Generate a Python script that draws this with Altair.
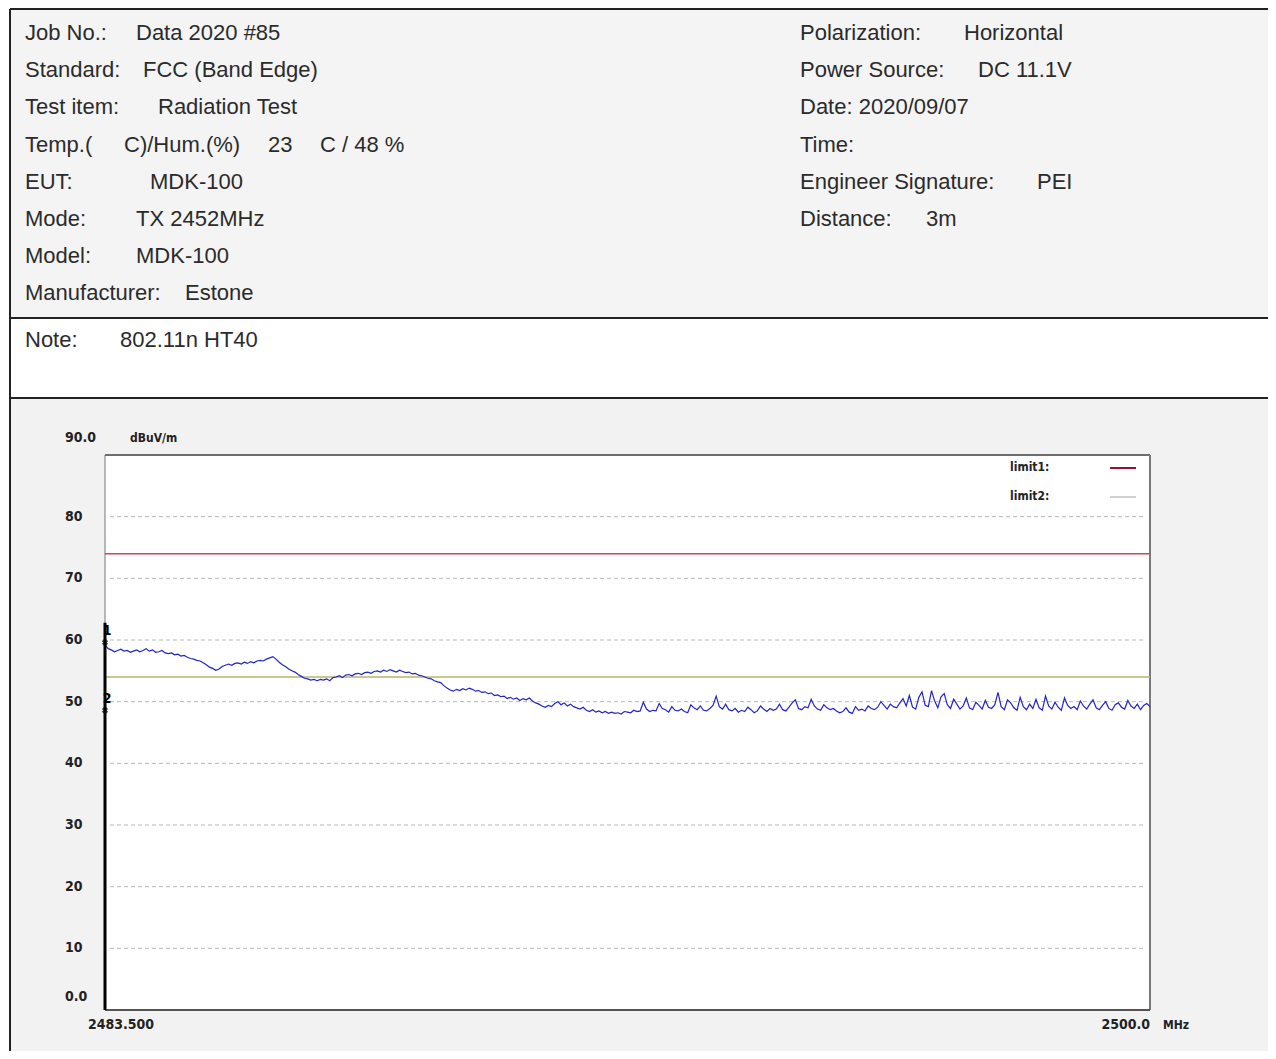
import altair as alt
import pandas as pd

# ---------------- data ----------------
FREQ_START = 2483.5
FREQ_STEP = 0.05
LEVELS = [
    59.2, 58.6, 58.4, 58.1, 58.3, 58.5, 58.2, 58.3, 58.0, 58.2,
    58.4, 58.1, 58.3, 58.6, 58.2, 58.4, 58.0, 58.1, 58.3, 57.9,
    57.8, 57.9, 57.6, 57.7, 57.4, 57.5, 57.2, 57.0, 56.9, 56.7,
    56.6, 56.3, 56.0, 55.6, 55.4, 55.1, 55.3, 55.7, 55.9, 56.1,
    55.9, 56.2, 56.3, 56.1, 56.4, 56.2, 56.5, 56.3, 56.6, 56.7,
    56.6, 56.9, 57.1, 57.3, 56.9, 56.4, 56.0, 55.7, 55.3, 55.0,
    54.8, 54.4, 54.1, 53.8, 53.7, 53.5, 53.6, 53.4, 53.6, 53.5,
    53.7, 53.4, 53.9, 54.0, 54.2, 53.9, 54.3, 54.4, 54.2, 54.5,
    54.6, 54.4, 54.7, 54.8, 54.6, 54.9, 55.0, 54.8, 55.1, 54.9,
    55.2, 55.0, 54.8, 55.1, 54.9, 54.7, 54.8, 54.5, 54.6, 54.3,
    54.2, 54.0, 53.8, 53.7, 53.4, 53.2, 53.1, 52.6, 52.2, 51.9,
    51.7, 52.0, 51.8, 52.1, 51.9, 52.2, 52.0, 51.7, 51.8, 51.5,
    51.6, 51.3, 51.4, 51.0, 51.1, 50.8, 50.9, 50.5, 50.7, 50.4,
    50.6, 50.2, 50.5, 50.3, 50.6, 50.1, 49.8, 49.6, 49.3, 49.1,
    49.4, 49.2, 49.7, 50.0, 49.5, 49.8, 49.3, 49.6, 49.2, 49.0,
    48.8, 49.1, 48.6, 48.4, 48.7, 48.3, 48.5, 48.2, 48.4, 48.1,
    48.3, 48.1, 48.2, 48.0, 48.4, 48.3, 48.2, 48.6, 48.4, 48.5,
    49.9, 48.8, 48.4, 48.6, 48.5, 49.7, 48.9, 48.7, 48.3, 49.2,
    48.6, 48.5, 48.8, 48.4, 48.2, 49.5, 49.0, 48.7, 49.3, 48.6,
    48.5, 48.9, 49.4, 50.9, 49.2, 48.8, 49.6, 48.7, 48.5, 48.9,
    48.3, 48.6, 48.4, 49.1, 48.7, 48.2, 48.5, 49.3, 48.8, 48.4,
    48.9, 48.6, 48.8, 49.6, 48.7, 48.5, 49.1, 49.8, 50.3, 48.9,
    48.7, 49.2, 49.0, 50.4, 49.3, 48.8, 48.6, 49.5, 49.0, 48.7,
    48.9, 48.5, 48.2, 48.4, 49.0, 48.3, 48.1, 49.2, 48.6, 48.8,
    48.5, 49.3, 48.9, 48.7, 49.1, 50.0, 49.4, 48.8, 49.6, 49.2,
    49.0, 49.8, 50.5, 49.3, 51.0, 49.1, 48.8, 50.7, 51.6, 49.4,
    49.2, 51.8, 50.1, 49.0, 50.8, 51.3, 49.5, 48.9, 50.4, 49.6,
    48.8, 49.3, 50.6, 49.0, 48.7, 49.9, 49.4, 48.8, 50.2, 49.1,
    48.9, 49.5, 51.5, 49.2, 48.7, 50.3, 49.8, 49.0, 48.6, 50.7,
    49.2, 48.7, 49.6, 48.9, 50.4, 49.0, 48.6, 50.9, 49.3, 48.8,
    49.9, 49.1, 48.6, 50.6, 49.4, 48.9, 49.2, 48.7, 50.1, 49.3,
    48.8, 49.6, 50.3, 49.0, 48.7, 49.4, 50.0, 48.9, 48.6, 49.5,
    49.8, 49.1, 48.8, 50.2, 49.3, 48.9, 49.6, 48.7, 49.4, 49.7,
    49.2,
]
FREQS = [round(FREQ_START + FREQ_STEP * i, 3) for i in range(len(LEVELS))]

LIMIT_NAMES = ["limit1", "limit2"]
LIMIT_LEVELS = [74.0, 54.0]
LIMIT_COLORS = ["#d8405c", "#b5b56a"]

GRID_LEVELS = [80, 70, 60, 50, 40, 30, 20, 10]
Y_TICK_VALUES = [80, 70, 60, 50, 40, 30, 20, 10]
Y_TICK_LABELS = ["80", "70", "60", "50", "40", "30", "20", "10"]
Y_TOP_LABEL = "90.0"
Y_BOTTOM_LABEL = "0.0"
X_MIN, X_MAX = 2483.5, 2500.0
X_MIN_LABEL = "2483.500"
X_MAX_LABEL = "2500.0"
X_UNIT = "MHz"
Y_UNIT = "dBuV/m"

MARKER_FREQS = [2483.5, 2483.5]
MARKER_LEVELS = [59.6, 48.6]
MARKER_LABELS = ["1", "2"]
MARKER_LINE_TOP = 62.8

HEADER_LEFT = [
    ("Job No.:", "Data 2020 #85"),
    ("Standard:", "FCC (Band Edge)"),
    ("Test item:", "Radiation Test"),
    ("Temp.(", "C)/Hum.(%)"),
    ("EUT:", "MDK-100"),
    ("Mode:", "TX 2452MHz"),
    ("Model:", "MDK-100"),
    ("Manufacturer:", "Estone"),
]
TEMP_EXTRA = ["23", "C / 48 %"]
HEADER_RIGHT = [
    ("Polarization:", "Horizontal"),
    ("Power Source:", "DC 11.1V"),
    ("Date: 2020/09/07", ""),
    ("Time:", ""),
    ("Engineer Signature:", "PEI"),
    ("Distance:", "3m"),
]
NOTE = ("Note:", "802.11n HT40")

# ---------------- layout (page pixel coords) ----------------
OX, OY = 105, 455          # plot area origin on page
PW, PH = 1045, 555         # plot area size
LEFT_VALUE_X = [136, 143, 158, 124, 150, 136, 136, 185]
TEMP_EXTRA_X = [268, 320]
RIGHT_LABEL_X = 800
RIGHT_VALUE_X = [964, 978, 0, 0, 1037, 926]
ROW_Y0, ROW_DY = 33, 37.2
NOTE_Y, NOTE_VALUE_X = 340, 120

HFONT = "Liberation Sans"
AFONT = "Liberation Sans Narrow, DejaVu Sans Condensed, Liberation Sans"
HSIZE = 22
HCOLOR = "#2b2b2b"

one = pd.DataFrame({"k": [0]})
xs = alt.Scale(domain=[X_MIN, X_MAX], nice=False, zero=False)
ys = alt.Scale(domain=[0, 90], nice=False, zero=False)


def rect(x1, y1, x2, y2, fill):
    return alt.Chart(one).mark_rect(fill=fill).encode(
        x=alt.value(x1 - OX), x2=alt.value(x2 - OX),
        y=alt.value(y1 - OY), y2=alt.value(y2 - OY))


def hline(x1, x2, y, color="#222", sw=2):
    return alt.Chart(one).mark_rule(color=color, strokeWidth=sw).encode(
        x=alt.value(x1 - OX), x2=alt.value(x2 - OX), y=alt.value(y - OY))


def vline(x, y1, y2, color="#222", sw=2):
    return alt.Chart(one).mark_rule(color=color, strokeWidth=sw).encode(
        x=alt.value(x - OX), y=alt.value(y1 - OY), y2=alt.value(y2 - OY))


def txt(s, px, py, size=HSIZE, bold=False, align="left", font=HFONT, color=HCOLOR):
    return alt.Chart(one).mark_text(
        text=s, align=align, baseline="middle", fontSize=size, font=font,
        fontWeight="bold" if bold else "normal", color=color).encode(
        x=alt.value(px - OX), y=alt.value(py - OY))


layers = []
# backgrounds
layers.append(rect(10, 9, 1290, 318, "#f4f4f4"))
layers.append(rect(10, 318, 1290, 398, "#ffffff"))
layers.append(rect(10, 398, 1290, 1070, "#f2f2f2"))
layers.append(rect(OX, OY, OX + PW, OY + PH, "#ffffff"))
# frame lines
layers.append(hline(10, 1290, 9))
layers.append(hline(10, 1290, 318))
layers.append(hline(10, 1290, 398))
layers.append(vline(10, 9, 1070))

# header text
for i, (lab, val) in enumerate(HEADER_LEFT):
    y = ROW_Y0 + ROW_DY * i
    layers.append(txt(lab, 25, y))
    layers.append(txt(val, LEFT_VALUE_X[i], y))
    if lab.startswith("Temp"):
        for s, x in zip(TEMP_EXTRA, TEMP_EXTRA_X):
            layers.append(txt(s, x, y))
for i, (lab, val) in enumerate(HEADER_RIGHT):
    y = ROW_Y0 + ROW_DY * i
    layers.append(txt(lab, RIGHT_LABEL_X, y))
    if val:
        layers.append(txt(val, RIGHT_VALUE_X[i], y))
layers.append(txt(NOTE[0], 25, NOTE_Y))
layers.append(txt(NOTE[1], NOTE_VALUE_X, NOTE_Y))

# grid lines
grid_df = pd.DataFrame({"level": GRID_LEVELS})
layers.append(alt.Chart(grid_df).mark_rule(color="#b8b8b8", strokeWidth=1, strokeDash=[4, 3]).encode(
    y=alt.Y("level:Q", scale=ys, axis=None), x=alt.value(5), x2=alt.value(PW - 5)))

# plot border
layers.append(hline(OX, OX + PW, OY, color="#6e6e6e", sw=2))
layers.append(vline(OX + PW, OY, OY + PH, color="#7a7a7a", sw=2))
layers.append(hline(OX, OX + PW, OY + PH, color="#555555", sw=2))
layers.append(vline(OX, OY, OY + PH, color="#777777", sw=1))

# limit lines
lim_df = pd.DataFrame({"name": LIMIT_NAMES, "level": LIMIT_LEVELS, "color": LIMIT_COLORS})
layers.append(alt.Chart(lim_df).mark_rule(strokeWidth=1.5).encode(
    y=alt.Y("level:Q", scale=ys, axis=None),
    color=alt.Color("color:N", scale=None, legend=None)))

# trace
trace_df = pd.DataFrame({"freq": FREQS, "level": LEVELS})
layers.append(alt.Chart(trace_df).mark_line(color="#2323c8", strokeWidth=1.2).encode(
    x=alt.X("freq:Q", scale=xs, axis=None),
    y=alt.Y("level:Q", scale=ys, axis=None)))

# marker vertical line
mline_df = pd.DataFrame({"freq": [MARKER_FREQS[0]], "lo": [0.0], "hi": [MARKER_LINE_TOP]})
layers.append(alt.Chart(mline_df).mark_rule(color="#000000", strokeWidth=3).encode(
    x=alt.X("freq:Q", scale=xs, axis=None),
    y=alt.Y("lo:Q", scale=ys, axis=None), y2="hi:Q"))

# markers
mk_df = pd.DataFrame({"freq": MARKER_FREQS, "level": MARKER_LEVELS, "label": MARKER_LABELS})
layers.append(alt.Chart(mk_df).mark_point(shape="cross", angle=45, size=40, color="#000",
                                           filled=True).encode(
    x=alt.X("freq:Q", scale=xs, axis=None), y=alt.Y("level:Q", scale=ys, axis=None)))
layers.append(alt.Chart(mk_df).mark_text(fontSize=14, fontWeight="bold", font=AFONT, color="#000",
                                          dx=2, dy=-11).encode(
    x=alt.X("freq:Q", scale=xs, axis=None), y=alt.Y("level:Q", scale=ys, axis=None), text="label:N"))

# y tick labels
yt_df = pd.DataFrame({"v": Y_TICK_VALUES, "label": Y_TICK_LABELS})
layers.append(alt.Chart(yt_df).mark_text(align="left", baseline="middle", fontSize=14, fontWeight="bold",
                                          font=AFONT, color="#222").encode(
    y=alt.Y("v:Q", scale=ys, axis=None), x=alt.value(-40), text="label:N"))
ye_df = pd.DataFrame({"v": [90.0], "label": [Y_TOP_LABEL]})
layers.append(alt.Chart(ye_df).mark_text(align="left", baseline="middle", fontSize=14, fontWeight="bold",
                                          font=AFONT, color="#222", dy=-17).encode(
    y=alt.Y("v:Q", scale=ys, axis=None), x=alt.value(-40), text="label:N"))
yb_df = pd.DataFrame({"v": [0.0], "label": [Y_BOTTOM_LABEL]})
layers.append(alt.Chart(yb_df).mark_text(align="left", baseline="middle", fontSize=14, fontWeight="bold",
                                          font=AFONT, color="#222", dy=-13).encode(
    y=alt.Y("v:Q", scale=ys, axis=None), x=alt.value(-40), text="label:N"))
layers.append(txt(Y_UNIT, 130, 438, size=12, bold=True, font=AFONT, color="#222"))

# x labels
xl_df = pd.DataFrame({"f": [X_MIN], "label": [X_MIN_LABEL]})
layers.append(alt.Chart(xl_df).mark_text(align="left", baseline="middle", fontSize=14, fontWeight="bold",
                                          font=AFONT, color="#222", dx=-17).encode(
    x=alt.X("f:Q", scale=xs, axis=None), y=alt.value(PH + 15), text="label:N"))
xr_df = pd.DataFrame({"f": [X_MAX], "label": [X_MAX_LABEL]})
layers.append(alt.Chart(xr_df).mark_text(align="right", baseline="middle", fontSize=14, fontWeight="bold",
                                          font=AFONT, color="#222").encode(
    x=alt.X("f:Q", scale=xs, axis=None), y=alt.value(PH + 15), text="label:N"))
layers.append(txt(X_UNIT, 1163, 1025, size=12, bold=True, font=AFONT, color="#222"))

# legend
for i, (name, col) in enumerate(zip(LIMIT_NAMES, ["#9b1030", "#a0a0a0"])):
    y = 467 + 29 * i
    layers.append(txt(name + ":", 1010, y, size=12, bold=True, font=AFONT, color="#222"))
    layers.append(hline(1110, 1136, y + 1, color=col, sw=2 if i == 0 else 1))

chart = alt.layer(*layers).properties(
    width=PW, height=PH,
    autosize=alt.AutoSizeParams(type="none"),
    padding={"left": OX - 8, "top": OY - 8, "right": 118, "bottom": 41},
    background="#ffffff",
).configure_view(stroke=None)

chart.save("out.html", embed_options={"renderer": "svg", "actions": False})
